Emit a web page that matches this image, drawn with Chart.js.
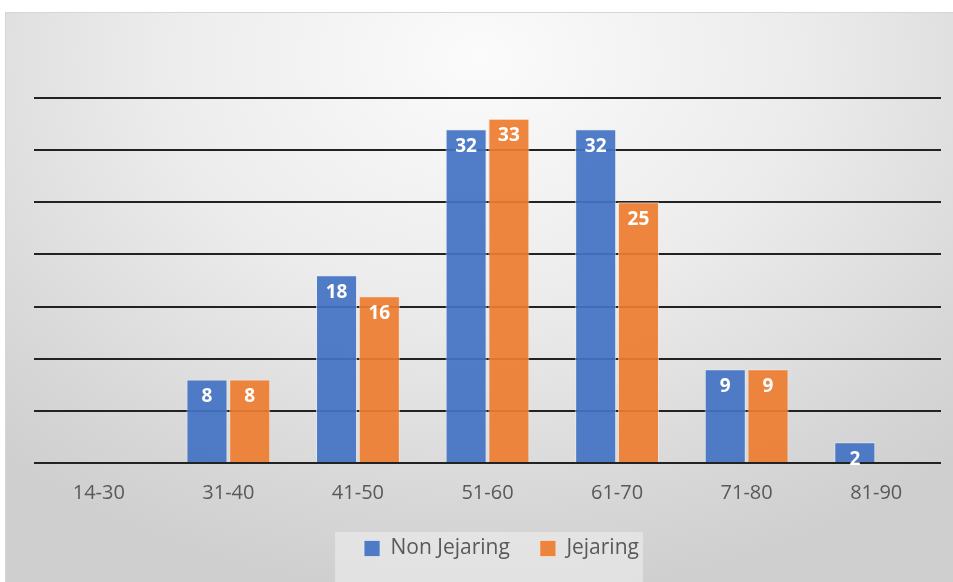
<!DOCTYPE html>
<html>
<head>
<meta charset="utf-8">
<script src="https://cdn.jsdelivr.net/npm/chart.js@4.4.1/dist/chart.umd.min.js"></script>
<style>
  html, body { margin: 0; padding: 0; background: #ffffff; width: 953px; height: 582px; overflow: hidden; }
  #box {
    position: absolute; left: 5px; top: 12px; width: 948px; height: 570px;
    border-top: 1px solid #d6d6d6; border-left: 1px solid #d6d6d6; box-sizing: border-box;
    background: radial-gradient(ellipse 75% 95% at 50% 8%, #fbfbfb 0%, #ececec 45%, #d6d6d6 85%, #cfcfcf 100%);
  }
  canvas { display: block; }
</style>
</head>
<body>
<div id="box"><canvas id="c" width="947" height="569"></canvas></div>
<script>
const categories = ['14-30', '31-40', '41-50', '51-60', '61-70', '71-80', '81-90'];
const seriesNames = ['Non Jejaring', 'Jejaring'];
const nonJejaring = [0, 8, 18, 32, 32, 9, 2];
const jejaring = [0, 8, 16, 33, 25, 9, 0];
const yTicks = [0, 5, 10, 15, 20, 25, 30, 35];

const LEGEND_SHIFT_Y = 7;
const LEGEND_SHIFT_X = 14;

const legendShift = {
  id: 'legendShift',
  afterLayout(chart) {
    const lg = chart.legend;
    if (!lg) return;
    lg.top -= LEGEND_SHIFT_Y;
    lg.bottom -= LEGEND_SHIFT_Y;
    lg.left += LEGEND_SHIFT_X;
    lg.right += LEGEND_SHIFT_X;
  }
};

const legendBg = {
  id: 'legendBg',
  beforeDraw(chart) {
    const lg = chart.legend;
    if (!lg || !lg.legendHitBoxes || !lg.legendHitBoxes.length) return;
    const hb = lg.legendHitBoxes;
    const first = hb[0], last = hb[hb.length - 1];
    const ctx = chart.ctx;
    ctx.save();
    ctx.fillStyle = 'rgba(240,240,240,0.55)';
    const x0 = first.left - 29;
    const x1 = last.left + last.width + 4;
    const y0 = lg.top + 30 + 10 - 16;
    ctx.fillRect(x0, y0, x1 - x0, chart.height - y0);
    ctx.restore();
  }
};

const valueLabels = {
  id: 'valueLabels',
  afterDatasetsDraw(chart) {
    const ctx = chart.ctx;
    ctx.save();
    ctx.font = 'bold 19px "Open Sans"';
    ctx.fillStyle = '#ffffff';
    ctx.textAlign = 'center';
    ctx.textBaseline = 'middle';
    chart.data.datasets.forEach((ds, i) => {
      const meta = chart.getDatasetMeta(i);
      meta.data.forEach((bar, j) => {
        const v = ds.data[j];
        if (!v) return;
        ctx.fillText(String(v), bar.x, bar.y + 17);
      });
    });
    ctx.restore();
  }
};

new Chart(document.getElementById('c'), {
  type: 'bar',
  data: {
    labels: categories,
    datasets: [
      { label: seriesNames[0], data: nonJejaring, backgroundColor: 'rgba(68,114,196,0.93)', borderColor: 'rgba(230,236,245,0.7)', borderWidth: 1 },
      { label: seriesNames[1], data: jejaring, backgroundColor: 'rgba(237,125,49,0.93)', borderColor: 'rgba(250,230,215,0.7)', borderWidth: 1 }
    ]
  },
  options: {
    responsive: false,
    animation: false,
    devicePixelRatio: 1,
    layout: { padding: { left: 28, right: 12, top: 85, bottom: 6 } },
    datasets: { bar: { categoryPercentage: 0.66, barPercentage: 0.96 } },
    scales: {
      x: {
        grid: { display: false },
        border: { display: false },
        ticks: { color: '#595959', font: { family: 'Open Sans', size: 20 }, padding: 10 }
      },
      y: {
        min: 0, max: 35,
        afterBuildTicks(scale) { scale.ticks = yTicks.map(v => ({ value: v })); },
        grid: { color: '#222222', lineWidth: 2, drawTicks: false },
        border: { display: false },
        ticks: { display: false }
      }
    },
    plugins: {
      tooltip: { enabled: false },
      legend: {
        position: 'bottom',
        labels: {
          color: '#595959',
          font: { family: 'Open Sans', size: 21 },
          boxWidth: 16, boxHeight: 16,
          padding: 30
        }
      }
    }
  },
  plugins: [legendShift, legendBg, valueLabels]
});
</script>
</body>
</html>
